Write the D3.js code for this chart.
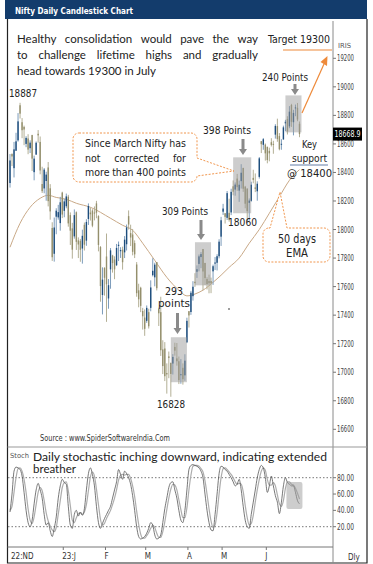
<!DOCTYPE html>
<html>
<head>
<meta charset="utf-8">
<script src="https://cdn.jsdelivr.net/npm/d3@7"></script>
<style>
  body { margin: 0; background: #fff; }
  svg { display: block; }
  .narrow { font-family: "Liberation Sans Narrow", "DejaVu Sans Condensed", "Liberation Sans", sans-serif; }
  .note { font-family: Lato, "Open Sans", sans-serif; }
</style>
</head>
<body>
<div id="chart"></div>
<script>
// trading days shown on the chart
const dates = [
  "2022-11-24","2022-11-25","2022-11-28","2022-11-29","2022-11-30",
  "2022-12-01","2022-12-02","2022-12-05","2022-12-06","2022-12-07","2022-12-08","2022-12-09","2022-12-12","2022-12-13","2022-12-14","2022-12-15","2022-12-16","2022-12-19","2022-12-20","2022-12-21","2022-12-22","2022-12-23","2022-12-26","2022-12-27","2022-12-28","2022-12-29","2022-12-30",
  "2023-01-02","2023-01-03","2023-01-04","2023-01-05","2023-01-06","2023-01-09","2023-01-10","2023-01-11","2023-01-12","2023-01-13","2023-01-16","2023-01-17","2023-01-18","2023-01-19","2023-01-20","2023-01-23","2023-01-24","2023-01-25","2023-01-27","2023-01-30","2023-01-31",
  "2023-02-01","2023-02-02","2023-02-03","2023-02-06","2023-02-07","2023-02-08","2023-02-09","2023-02-10","2023-02-13","2023-02-14","2023-02-15","2023-02-16","2023-02-17","2023-02-20","2023-02-21","2023-02-22","2023-02-23","2023-02-24","2023-02-27","2023-02-28",
  "2023-03-01","2023-03-02","2023-03-03","2023-03-06","2023-03-08","2023-03-09","2023-03-10","2023-03-13","2023-03-14","2023-03-15","2023-03-16","2023-03-17","2023-03-20","2023-03-21","2023-03-22","2023-03-23","2023-03-24","2023-03-27","2023-03-28","2023-03-29","2023-03-31",
  "2023-04-03","2023-04-05","2023-04-06","2023-04-10","2023-04-11","2023-04-12","2023-04-13","2023-04-17","2023-04-18","2023-04-19","2023-04-20","2023-04-21","2023-04-24","2023-04-25","2023-04-26","2023-04-27","2023-04-28",
  "2023-05-02","2023-05-03","2023-05-04","2023-05-05","2023-05-08","2023-05-09","2023-05-10","2023-05-11","2023-05-12","2023-05-15","2023-05-16","2023-05-17","2023-05-18","2023-05-19","2023-05-22","2023-05-23","2023-05-24","2023-05-25","2023-05-26","2023-05-29","2023-05-30","2023-05-31",
  "2023-06-01","2023-06-02","2023-06-05","2023-06-06","2023-06-07","2023-06-08","2023-06-09","2023-06-12","2023-06-13","2023-06-14","2023-06-15","2023-06-16","2023-06-19","2023-06-20","2023-06-21","2023-06-22","2023-06-23"
];

const opens = [
  18326,18529,18430,18552,18625,
  18871,18752,18719,18600,18638,18570,18662,18402,18525,18671,18614,18319,18288,18340,18435,18289,18011,17830,18090,18085,18045,18259,
  18131,18163,18230,18101,18008,17952,18121,17924,17921,17867,18033,17922,18074,18119,18133,18119,18183,18094,17877,17541,17732,
  17811,17517,17721,17818,17790,17750,17885,17848,17859,17840,17897,18094,17975,17965,17905,17755,17574,17592,17429,17383,
  17360,17421,17451,17680,17665,17772,17443,17421,17160,17166,16994,17111,17066,17061,17177,17097,17077,16984,17031,16978,17210,
  17428,17422,17533,17634,17704,17759,17807,17863,17766,17653,17639,17639,17707,17761,17767,17813,17950,
  18125,18114,18082,18117,18120,18303,18280,18357,18273,18339,18432,18300,18287,18187,18201,18362,18295,18268,18369,18619,18594,18595,
  18580,18551,18612,18600,18665,18725,18655,18596,18631,18744,18774,18723,18873,18752,18849,18853,18741
];
const highs = [
  18529,18534,18614,18678,18816,
  18888,18781,18728,18654,18668,18625,18664,18518,18617,18697,18652,18440,18431,18405,18473,18318,18051,18084,18149,18173,18229,18265,
  18215,18252,18243,18120,18047,18141,18127,17945,17934,17999,18049,18072,18183,18155,18143,18162,18201,18100,17884,17735,17735,
  17972,17653,17870,17823,17812,17899,17916,17876,17880,17954,18035,18134,18034,18004,17924,17772,17620,17599,17451,17440,
  17468,17445,17644,17799,17767,17772,17452,17529,17224,17211,17062,17145,17066,17127,17207,17205,17110,17092,17062,17126,17382,
  17428,17570,17638,17694,17749,17825,17842,17864,17766,17666,17684,17663,17754,17807,17827,17932,18089,
  18180,18116,18270,18216,18286,18344,18330,18390,18343,18458,18432,18306,18288,18218,18335,18419,18393,18338,18508,18620,18641,18603,
  18580,18574,18640,18622,18738,18777,18676,18633,18728,18769,18794,18865,18881,18839,18876,18887,18757
];
const lows = [
  18294,18445,18365,18552,18616,
  18778,18640,18591,18577,18528,18536,18410,18345,18524,18609,18387,18256,18254,18202,18162,18069,17780,17775,17967,18069,17992,18080,
  18086,18149,18020,17892,17796,17936,17857,17800,17774,17761,17853,17886,18032,18063,18016,18064,18079,17847,17494,17405,17537,
  17353,17445,17585,17698,17652,17744,17779,17801,17719,17800,17853,18000,17884,17819,17800,17529,17455,17421,17299,17255,
  17346,17306,17427,17671,17602,17573,17324,17114,16987,16938,16850,16958,16828,16984,17116,17046,16917,16919,16913,16940,17204,
  17313,17402,17502,17598,17661,17707,17729,17575,17610,17580,17553,17554,17612,17716,17713,17798,17885,
  18102,18042,18067,18055,18101,18240,18237,18271,18194,18287,18264,18149,18060,18062,18195,18324,18262,18202,18357,18536,18559,18483,
  18464,18478,18582,18531,18637,18615,18555,18559,18631,18690,18666,18710,18719,18660,18794,18759,18647
];
const closes = [
  18484,18512,18562,18618,18758,
  18812,18696,18701,18642,18560,18609,18497,18497,18608,18660,18414,18269,18420,18385,18199,18127,17806,18014,18132,18122,18191,18105,
  18197,18232,18043,17992,17859,18101,17914,17895,17858,17956,17894,18053,18165,18107,18027,18118,18118,17892,17604,17649,17662,
  17616,17610,17854,17765,17721,17871,17893,17856,17771,17929,18015,18035,17944,17844,17826,17554,17511,17465,17392,17304,
  17451,17322,17594,17711,17754,17589,17413,17154,17043,16972,16985,17100,16988,17107,17151,17077,16945,16986,16951,17081,17360,
  17398,17557,17599,17624,17722,17812,17828,17706,17660,17618,17624,17624,17743,17769,17813,17915,18065,
  18147,18089,18255,18069,18264,18265,18315,18297,18314,18398,18286,18181,18129,18203,18314,18348,18285,18321,18499,18598,18633,18534,
  18487,18534,18593,18599,18726,18634,18563,18601,18716,18755,18688,18826,18755,18817,18856,18771,18669
];

// 50 day EMA at these trading-day positions
const emaDay = [0,5,10,15,19,23,28,33,40,50,56,61,66,72,78,84,88,92,96,101,105,109,114,119,124,129,134,139,144];
const emaVal = [17876,18044,18156,18219,18240,18225,18212,18184,18156,18079,18030,17995,17904,17784,17665,17575,17535,17548,17575,17630,17680,17735,17800,17904,18000,18114,18230,18345,18420];

// stochastic %K (dark) and %D (light), one value per trading day
const stochK = [
  38,60,88,93,92,
  90,82,62,40,25,20,28,48,65,73,65,55,35,22,25,15,8,18,32,55,70,78,
  74,72,45,22,18,35,40,33,38,34,42,65,85,92,84,70,45,25,18,24,30,
  35,40,45,55,65,75,90,84,78,88,85,80,72,58,40,20,8,5,6,8,
  12,18,25,22,10,5,6,10,25,42,55,68,74,75,65,55,40,28,25,40,65,
  90,95,96,95,94,92,88,80,60,40,25,16,15,35,60,85,94,
  93,90,88,84,80,75,70,72,78,65,45,28,20,18,35,50,65,80,90,95,92,80,
  62,70,82,70,58,50,36,50,70,80,74,72,70,70,62,52,48
];
const stochD = [
  40,45,62,80,91,
  92,88,78,62,42,28,24,32,47,62,68,64,52,37,27,21,16,14,19,35,52,68,
  74,75,64,46,28,25,31,36,37,35,38,47,64,81,87,82,66,47,29,22,24,
  30,35,40,47,55,65,77,83,84,83,84,84,79,70,57,39,23,11,6,6,
  9,13,18,22,19,12,7,7,14,26,41,55,66,72,71,65,53,41,31,31,43,
  65,83,94,95,95,94,91,87,76,60,42,27,19,22,37,60,80,
  91,92,90,87,84,80,75,72,73,72,63,46,31,22,24,34,50,65,78,88,92,89,
  78,71,71,74,70,59,48,45,52,67,75,75,72,71,67,61,54
];

const priceTicks = [16600,16800,17000,17200,17400,17600,17800,18000,18200,18400,18600,18800,19000,19200];
const stochTicks = [20,40,60,80];
const monthLabels = ["22:ND","23:J","F","M","A","M","J"];
const monthStart = ["2022-11-24","2023-01-02","2023-02-01","2023-03-01","2023-04-03","2023-05-02","2023-06-01"];

// shaded consolidation zones: first day, last day, low, high
const zoneFrom = ["2023-03-21","2023-04-11","2023-05-10","2023-06-15"];
const zoneTo   = ["2023-03-29","2023-04-20","2023-05-19","2023-06-23"];
const zoneLow  = [16930,17609,18114,18681];
const zoneHigh = [17245,17911,18506,18940];

const lastPrice = 18668.9;

const W = 373, H = 564;
const svg = d3.select("#chart").append("svg")
  .attr("width", W).attr("height", H);

const x = d3.scaleBand().domain(dates).range([9, 300.5]);
const y = d3.scaleLinear().domain([16600, 19200]).range([429.3, 58.3]);
const ys = d3.scaleLinear().domain([20, 80]).range([526.7, 477.7]);
const cx = d => x(d) + x.bandwidth() / 2;

const axisX = 333;
const orange = "#ee8a3a";

// header
svg.append("rect").attr("x", 5).attr("y", 0).attr("width", 362).attr("height", 19).attr("fill", "#133c6c");
svg.append("text").attr("class", "narrow").attr("x", 15).attr("y", 13.5)
  .attr("font-size", 9.5).attr("font-weight", "bold").attr("fill", "#fff")
  .attr("textLength", 118).attr("lengthAdjust", "spacingAndGlyphs")
  .text("Nifty Daily Candlestick Chart");

// frame and panel lines
svg.append("path").attr("d", "M7.5,19 V563 H367 V19").attr("fill", "none").attr("stroke", "#222").attr("stroke-width", 1.2);
svg.append("line").attr("x1", axisX).attr("x2", axisX).attr("y1", 21).attr("y2", 563).attr("stroke", "#8a8a8a");
svg.append("line").attr("x1", 7.5).attr("x2", 367).attr("y1", 447).attr("y2", 447).attr("stroke", "#999");
svg.append("line").attr("x1", 7.5).attr("x2", axisX).attr("y1", 547).attr("y2", 547).attr("stroke", "#777");

// price axis
const pAxis = svg.append("g");
pAxis.selectAll("line").data(priceTicks).join("line")
  .attr("x1", axisX).attr("x2", axisX + 3)
  .attr("y1", d => y(d)).attr("y2", d => y(d)).attr("stroke", "#777");
pAxis.selectAll("text").data(priceTicks).join("text")
  .attr("class", "narrow").attr("x", axisX + 4).attr("y", d => y(d) + 3)
  .attr("font-size", 8).attr("fill", "#444")
  .attr("textLength", 17).attr("lengthAdjust", "spacingAndGlyphs").text(d => d);
svg.append("text").attr("class", "narrow").attr("x", 338).attr("y", 48)
  .attr("font-size", 7).attr("fill", "#555")
  .attr("textLength", 13).attr("lengthAdjust", "spacingAndGlyphs").text("IRIS");

// EMA
svg.append("path")
  .datum(emaDay.map((d, i) => [d, emaVal[i]]))
  .attr("fill", "none").attr("stroke", "#c9a987").attr("stroke-width", 1)
  .attr("d", d3.line().x(d => cx(dates[d[0]])).y(d => y(d[1])).curve(d3.curveMonotoneX));

// candles
const rows = dates.map((d, i) => ({ d, o: opens[i], h: highs[i], l: lows[i], c: closes[i] }));
const bw = 1.4;
const candle = svg.append("g").selectAll("g").data(rows).join("g");
candle.append("line")
  .attr("x1", d => cx(d.d)).attr("x2", d => cx(d.d))
  .attr("y1", d => y(d.h)).attr("y2", d => y(d.l))
  .attr("stroke", d => d.c >= d.o ? "#7d9cbb" : "#b3af95").attr("stroke-width", 1);
candle.append("rect")
  .attr("x", d => cx(d.d) - bw / 2).attr("width", bw)
  .attr("y", d => y(Math.max(d.o, d.c)))
  .attr("height", d => Math.max(1, y(Math.min(d.o, d.c)) - y(Math.max(d.o, d.c))))
  .attr("fill", d => d.c >= d.o ? "#1d4d7c" : "#948f6c");

// shaded zones
svg.append("g").selectAll("rect").data(zoneFrom).join("rect")
  .attr("x", (d, i) => x(d) - 1)
  .attr("width", (d, i) => x(zoneTo[i]) + x.bandwidth() + 1 - x(d) + 1)
  .attr("y", (d, i) => y(zoneHigh[i]))
  .attr("height", (d, i) => y(zoneLow[i]) - y(zoneHigh[i]))
  .attr("fill", "#9c9c9c").attr("opacity", 0.5);

// grey down arrows
function downArrow(px, y0, y1) {
  svg.append("path")
    .attr("d", `M${px - 1.5},${y0} H${px + 1.5} V${y1 - 6} H${px + 4} L${px},${y1} L${px - 4},${y1 - 6} H${px - 1.5} Z`)
    .attr("fill", "#8a8a8a");
}
downArrow(243, 139, 155);
downArrow(295, 84, 95);
downArrow(201, 220, 240);
downArrow(177.5, 313, 334);

// last price box
svg.append("rect").attr("x", axisX).attr("y", y(lastPrice) - 6.5).attr("width", 29).attr("height", 13).attr("fill", "#000");
svg.append("text").attr("class", "narrow").attr("x", axisX + 1.5).attr("y", y(lastPrice) + 3)
  .attr("font-size", 8.5).attr("fill", "#fff")
  .attr("textLength", 26).attr("lengthAdjust", "spacingAndGlyphs").text(lastPrice.toFixed(1));

// text helpers
function label(txt, px, py, size, anchor, cls) {
  return svg.append("text").attr("class", cls || "narrow").attr("x", px).attr("y", py)
    .attr("font-size", size).attr("fill", "#222").attr("text-anchor", anchor || "start").text(txt);
}
function fit(sel, len) {
  return sel.attr("textLength", len).attr("lengthAdjust", "spacingAndGlyphs");
}
function justify(words, x0, x1, py, size, cls) {
  const nodes = words.map(w => label(w, 0, py, size, "start", cls));
  const widths = nodes.map(n => n.node().getComputedTextLength());
  const gap = (x1 - x0 - d3.sum(widths)) / (words.length - 1);
  let px = x0;
  nodes.forEach((n, k) => { n.attr("x", px); px += widths[k] + gap; });
}

// top comment
justify("Healthy consolidation would pave the way".split(" "), 17, 258, 43, 11.5, "note");
justify("to challenge lifetime highs and gradually".split(" "), 17, 258, 59, 11.5, "note");
label("head towards 19300 in July", 17, 75, 11.5, "start", "note");

// target
fit(label("Target 19300", 268, 43, 11, "start"), 62);
svg.append("line").attr("x1", 283).attr("x2", 332).attr("y1", 50).attr("y2", 50).attr("stroke", orange).attr("stroke-width", 1.2);
svg.append("line").attr("x1", 302).attr("y1", 113).attr("x2", 324).attr("y2", 64).attr("stroke", orange).attr("stroke-width", 1.2);
svg.append("path").attr("d", "M327.5,56 L327,66 L320.5,62 Z").attr("fill", orange);

// price labels
fit(label("18887", 9, 97, 11, "start"), 28);
fit(label("16828", 157, 408, 11, "start"), 28);
fit(label("18060", 228, 226, 11, "start"), 29);
fit(label("398 Points", 203, 134, 11, "start"), 48);
fit(label("240 Points", 262, 81, 11, "start"), 46);
fit(label("309 Points", 162, 215, 11, "start"), 46);
fit(label("293", 165, 295, 11, "start"), 18);
fit(label("points", 158, 307, 11, "start"), 32);
fit(label("Key", 302, 148, 11, "start"), 15);
fit(label("support", 292, 162, 11, "start"), 35);
svg.append("line").attr("x1", 290).attr("x2", 328).attr("y1", 165).attr("y2", 165).attr("stroke", "#3b5b8f").attr("stroke-width", 0.8);
fit(label("@ 18400", 287, 177, 11, "start"), 45);

// callouts
const r = 6;
svg.append("path")
  .attr("d", `M${73 + r},133 H${197 - r} A${r},${r} 0 0 1 197,${133 + r} V158 L234,171 L197,176 V${182 - r} A${r},${r} 0 0 1 ${197 - r},182 H${73 + r} A${r},${r} 0 0 1 73,${182 - r} V${133 + r} A${r},${r} 0 0 1 ${73 + r},133 Z`)
  .attr("fill", "#fff").attr("stroke", orange).attr("stroke-width", 0.9).attr("stroke-dasharray", "2,1.5");
justify(["Since", "March", "Nifty", "has"], 85, 186, 147, 10.5);
justify(["not", "corrected", "for"], 85, 186, 162, 10.5);
justify(["more", "than", "400", "points"], 85, 186, 176, 10.5);

svg.append("path")
  .attr("d", `M${263 + r},228 H270 L280,192 L287,228 H${330 - r} A${r},${r} 0 0 1 330,${228 + r} V${262 - r} A${r},${r} 0 0 1 ${330 - r},262 H${263 + r} A${r},${r} 0 0 1 263,${262 - r} V${228 + r} A${r},${r} 0 0 1 ${263 + r},228 Z`)
  .attr("fill", "#fff").attr("stroke", orange).attr("stroke-width", 0.9).attr("stroke-dasharray", "2,1.5");
fit(label("50 days", 297, 243, 11.5, "middle"), 38);
fit(label("EMA", 297, 257, 11.5, "middle"), 22);

svg.append("circle").attr("cx", 229).attr("cy", 309).attr("r", 0.8).attr("fill", "#222");

fit(label("Source : www.SpiderSoftwareIndia.Com", 40, 441, 8, "start").attr("fill", "#333"), 130);

// stochastic panel
svg.append("g").selectAll("line").data([20, 80]).join("line")
  .attr("x1", 8).attr("x2", axisX).attr("y1", d => ys(d)).attr("y2", d => ys(d))
  .attr("stroke", "#777").attr("stroke-dasharray", "1.5,2");
const sAxis = svg.append("g");
sAxis.selectAll("line").data(stochTicks).join("line")
  .attr("x1", axisX).attr("x2", axisX + 3).attr("y1", d => ys(d)).attr("y2", d => ys(d)).attr("stroke", "#777");
sAxis.selectAll("text").data(stochTicks).join("text")
  .attr("class", "narrow").attr("x", axisX + 4).attr("y", d => ys(d) + 3)
  .attr("font-size", 8).attr("fill", "#444")
  .attr("textLength", 17).attr("lengthAdjust", "spacingAndGlyphs").text(d => d.toFixed(2));

const sLine = d3.line().x((d, i) => cx(dates[i])).y(d => ys(d)).curve(d3.curveMonotoneX);
svg.append("path").datum(stochD).attr("fill", "none").attr("stroke", "#adadad").attr("stroke-width", 1.2).attr("d", sLine);
svg.append("path").datum(stochK).attr("fill", "none").attr("stroke", "#555").attr("stroke-width", 0.8).attr("d", sLine);

svg.append("rect").attr("x", x("2023-06-15")).attr("y", 482).attr("width", 16).attr("height", 27)
  .attr("rx", 2).attr("fill", "#9c9c9c").attr("opacity", 0.5);

fit(label("Stoch", 10, 458, 7, "start").attr("fill", "#555"), 19);
fit(label("Daily stochastic inching downward, indicating extended", 33, 460.5, 11.5, "start", "note"), 294);
label("breather", 33, 473, 11.5, "start", "note");

// date axis
svg.append("g").selectAll("text").data(monthLabels).join("text")
  .attr("class", "narrow").attr("x", (d, i) => i === 0 ? 11 : x(monthStart[i]) - 1)
  .attr("y", 559).attr("font-size", 8).attr("fill", "#333").text(d => d);
svg.append("g").selectAll("line").data(monthStart.slice(1)).join("line")
  .attr("x1", d => x(d)).attr("x2", d => x(d)).attr("y1", 547).attr("y2", 550).attr("stroke", "#777");
label("Dly", 348, 560, 8, "start").attr("fill", "#333");
</script>
</body>
</html>
